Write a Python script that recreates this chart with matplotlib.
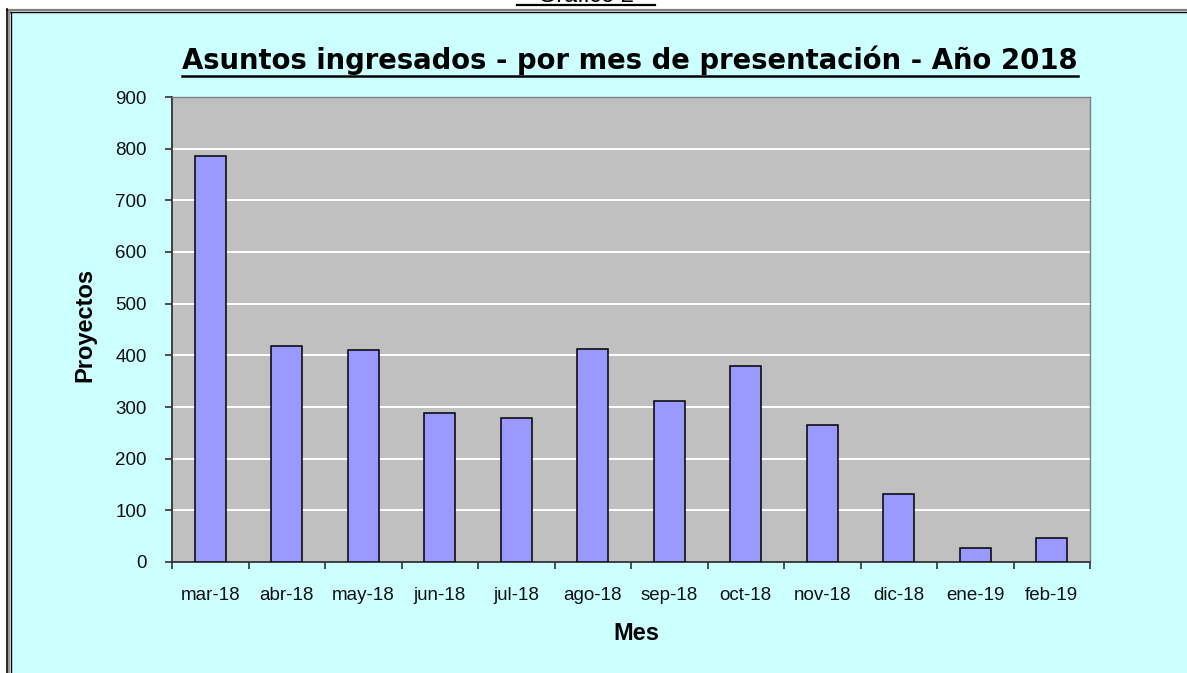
import matplotlib
matplotlib.use("Agg")
import matplotlib.pyplot as plt
from matplotlib.lines import Line2D
from matplotlib.patches import Rectangle
import numpy as np

months = ["mar-18", "abr-18", "may-18", "jun-18", "jul-18", "ago-18",
          "sep-18", "oct-18", "nov-18", "dic-18", "ene-19", "feb-19"]
proyectos = [786, 419, 410, 288, 279, 412, 312, 380, 265, 132, 28, 46]
y_ticks = [0, 100, 200, 300, 400, 500, 600, 700, 800, 900]

W, H = 1187, 673
fig = plt.figure(figsize=(W / 100, H / 100), dpi=100, facecolor="white")

def fx(px):
    return px / W

def fy(py):
    return 1 - py / H

# cyan chart background
bg = Rectangle((fx(11), 0), 1 - fx(11), fy(12), transform=fig.transFigure,
               facecolor="#CCFFFF", edgecolor="none", zorder=-5)
fig.patches.append(bg)
# frame lines
fig.add_artist(Line2D([fx(7), 1], [fy(9.5), fy(9.5)], color="#808080", lw=1.6, transform=fig.transFigure))
fig.add_artist(Line2D([fx(10), 1], [fy(11.5), fy(11.5)], color="black", lw=1.0, transform=fig.transFigure))
fig.add_artist(Line2D([fx(7), fx(7)], [0, fy(9)], color="black", lw=1.2, transform=fig.transFigure))
fig.add_artist(Line2D([fx(9), fx(9)], [0, fy(10)], color="#808080", lw=1.2, transform=fig.transFigure))
fig.add_artist(Line2D([fx(11), fx(11)], [0, fy(11.5)], color="black", lw=1.0, transform=fig.transFigure))

# "Gráfico 2" header mostly cut off at top (as in the reference)
fig.text(fx(586), fy(1.5), "Gráfico 2", ha="center", va="baseline",
         fontsize=17, family="Liberation Sans", color="black")
fig.add_artist(Line2D([fx(517), fx(655)], [fy(4.5), fy(4.5)], color="black", lw=1.6,
                      transform=fig.transFigure))

ax = fig.add_axes([fx(172), fy(562), fx(1090) - fx(172), fy(97) - fy(562)])
ax.set_zorder(1)
ax.set_facecolor("#C0C0C0")
x = np.arange(len(months))
ax.bar(x, proyectos, width=0.41, color="#9999FF", edgecolor="black", linewidth=1.1, zorder=3)

ax.set_xlim(-0.5, len(months) - 0.5)
ax.set_ylim(0, 900)
ax.set_yticks(y_ticks)
ax.set_yticklabels([str(v) for v in y_ticks], family="Liberation Sans", fontsize=13.5, color="#111111")
for v in y_ticks[1:-1]:
    ax.axhline(v, color="white", lw=1.4, zorder=1)

ax.set_xticks(x)
ax.set_xticklabels(months, family="Liberation Sans", fontsize=13.5, color="#111111")
ax.set_xticks(np.arange(-0.5, len(months)), minor=True)
ax.tick_params(axis="x", which="major", length=0, pad=18)
ax.tick_params(axis="x", which="minor", length=5, width=1.2, color="#333333", direction="out")
ax.tick_params(axis="y", which="major", length=5, width=1.2, color="#333333", direction="out", pad=13)

for s in ["left", "bottom"]:
    ax.spines[s].set_color("#333333")
    ax.spines[s].set_linewidth(1.3)
for s in ["top", "right"]:
    ax.spines[s].set_color("#808080")
    ax.spines[s].set_linewidth(1.0)

fig.text(fx(85), fy(325), "Proyectos", rotation=90, ha="center", va="center",
         fontsize=17, fontweight="bold", family="Liberation Sans")
fig.text(fx(636), fy(633), "Mes", ha="center", va="center",
         fontsize=17, fontweight="bold", family="Liberation Sans")

title = fig.text(fx(630), fy(60), "Asuntos ingresados - por mes de presentación - Año 2018",
                 ha="center", va="center", fontsize=19.8, fontweight="bold", family="DejaVu Sans")
fig.canvas.draw()
bb = title.get_window_extent(fig.canvas.get_renderer())
fig.add_artist(Line2D([bb.x0 / W, bb.x1 / W], [fy(76), fy(76)], color="black", lw=1.8,
                      transform=fig.transFigure))

fig.savefig("out.png", dpi=100, facecolor="white")
